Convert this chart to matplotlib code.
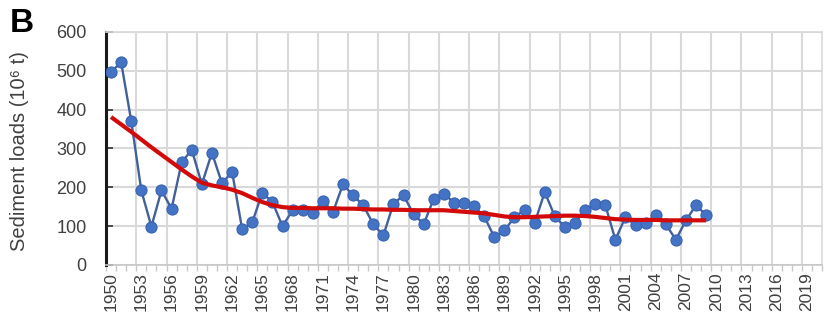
import matplotlib
matplotlib.use("Agg")
import matplotlib.pyplot as plt
import numpy as np

plt.rcParams['font.family'] = ['Liberation Sans', 'DejaVu Sans']

# ---- data ----
all_years = list(range(1950, 2021))          # category axis 1950..2020
data_years = list(range(1950, 2010))
sediment = [497, 522, 371, 192, 99, 192, 145, 264, 297, 208,
            289, 210, 240, 92, 110, 186, 162, 100, 141, 141,
            134, 165, 136, 208, 179, 154, 105, 76, 158, 179,
            131, 105, 171, 184, 160, 160, 151, 125, 72, 89,
            123, 142, 108, 188, 125, 98, 108, 142, 158, 155,
            65, 123, 102, 109, 128, 105, 65, 115, 154, 128]
trend = [381, 362, 343, 323, 303, 284, 265, 246, 228, 212,
         205, 200, 194, 185, 173, 162, 154, 149, 147, 147,
         146, 146, 146, 145, 145, 144, 143, 143, 142, 142,
         141, 141, 141, 141, 139, 137, 135, 133, 129, 125,
         123, 123, 124, 125, 126, 127, 127, 126, 124, 121,
         118, 117, 116, 116, 116, 115, 115, 115, 115, 115]
yticks = [0, 100, 200, 300, 400, 500, 600]
label_step = 3

# ---- figure ----
fig = plt.figure(figsize=(8.25, 3.18), dpi=100)
ax = fig.add_axes([0.1285, 0.1667, 0.868, 0.7327])

n = len(all_years)
xi = np.array([all_years.index(y) for y in data_years])

grid_c = '#d9d9d9'
for b in np.arange(0, n, label_step):
    ax.axvline(b - 0.5, color=grid_c, lw=1.5, zorder=0)
ax.set_yticks(yticks)
ax.yaxis.grid(True, color=grid_c, lw=1.5, zorder=0)
ax.set_axisbelow(True)

ax.plot(xi, sediment, color='#42619a', lw=1.7, zorder=3)
ax.plot(xi, sediment, 'o', ms=8, mfc='#4472c4', mec='#3a64b0', mew=0.8, zorder=4)
ax.plot(xi, trend, color='#d20a0a', lw=3.0, zorder=5, solid_capstyle='butt')

ax.set_xlim(-0.5, n - 0.5)
ax.set_ylim(0, 600)

centers = np.arange(0, n, label_step)
ax.set_xticks(centers)
ax.set_xticklabels([str(all_years[c]) for c in centers], rotation=90,
                   fontsize=12.5, color='#404040')
ax.set_xticks(np.arange(n + 1) - 0.5, minor=True)
ax.tick_params(axis='x', which='major', length=0, pad=5)
ax.tick_params(axis='x', which='minor', length=4, color='#c8c8c8', width=1)
ax.tick_params(axis='y', which='major', length=5, direction='in', width=1.2,
               color='#333333', labelsize=13, labelcolor='#404040', pad=14)

for s in ['top', 'right']:
    ax.spines[s].set_color(grid_c)
    ax.spines[s].set_linewidth(1.2)
ax.spines['bottom'].set_color('#c8c8c8')
ax.spines['bottom'].set_linewidth(1.2)
ax.spines['left'].set_color('#1a1a1a')
ax.spines['left'].set_linewidth(2.2)

ax.set_ylabel('Sediment loads (10\u2076 t)', fontsize=14.5, color='#404040', va='center')
ax.yaxis.set_label_coords(-0.1215, 0.49)

fig.text(0.012, 0.975, 'B', fontsize=24, fontweight='bold', va='top', ha='left', color='black')

fig.savefig('out.png', dpi=100)
